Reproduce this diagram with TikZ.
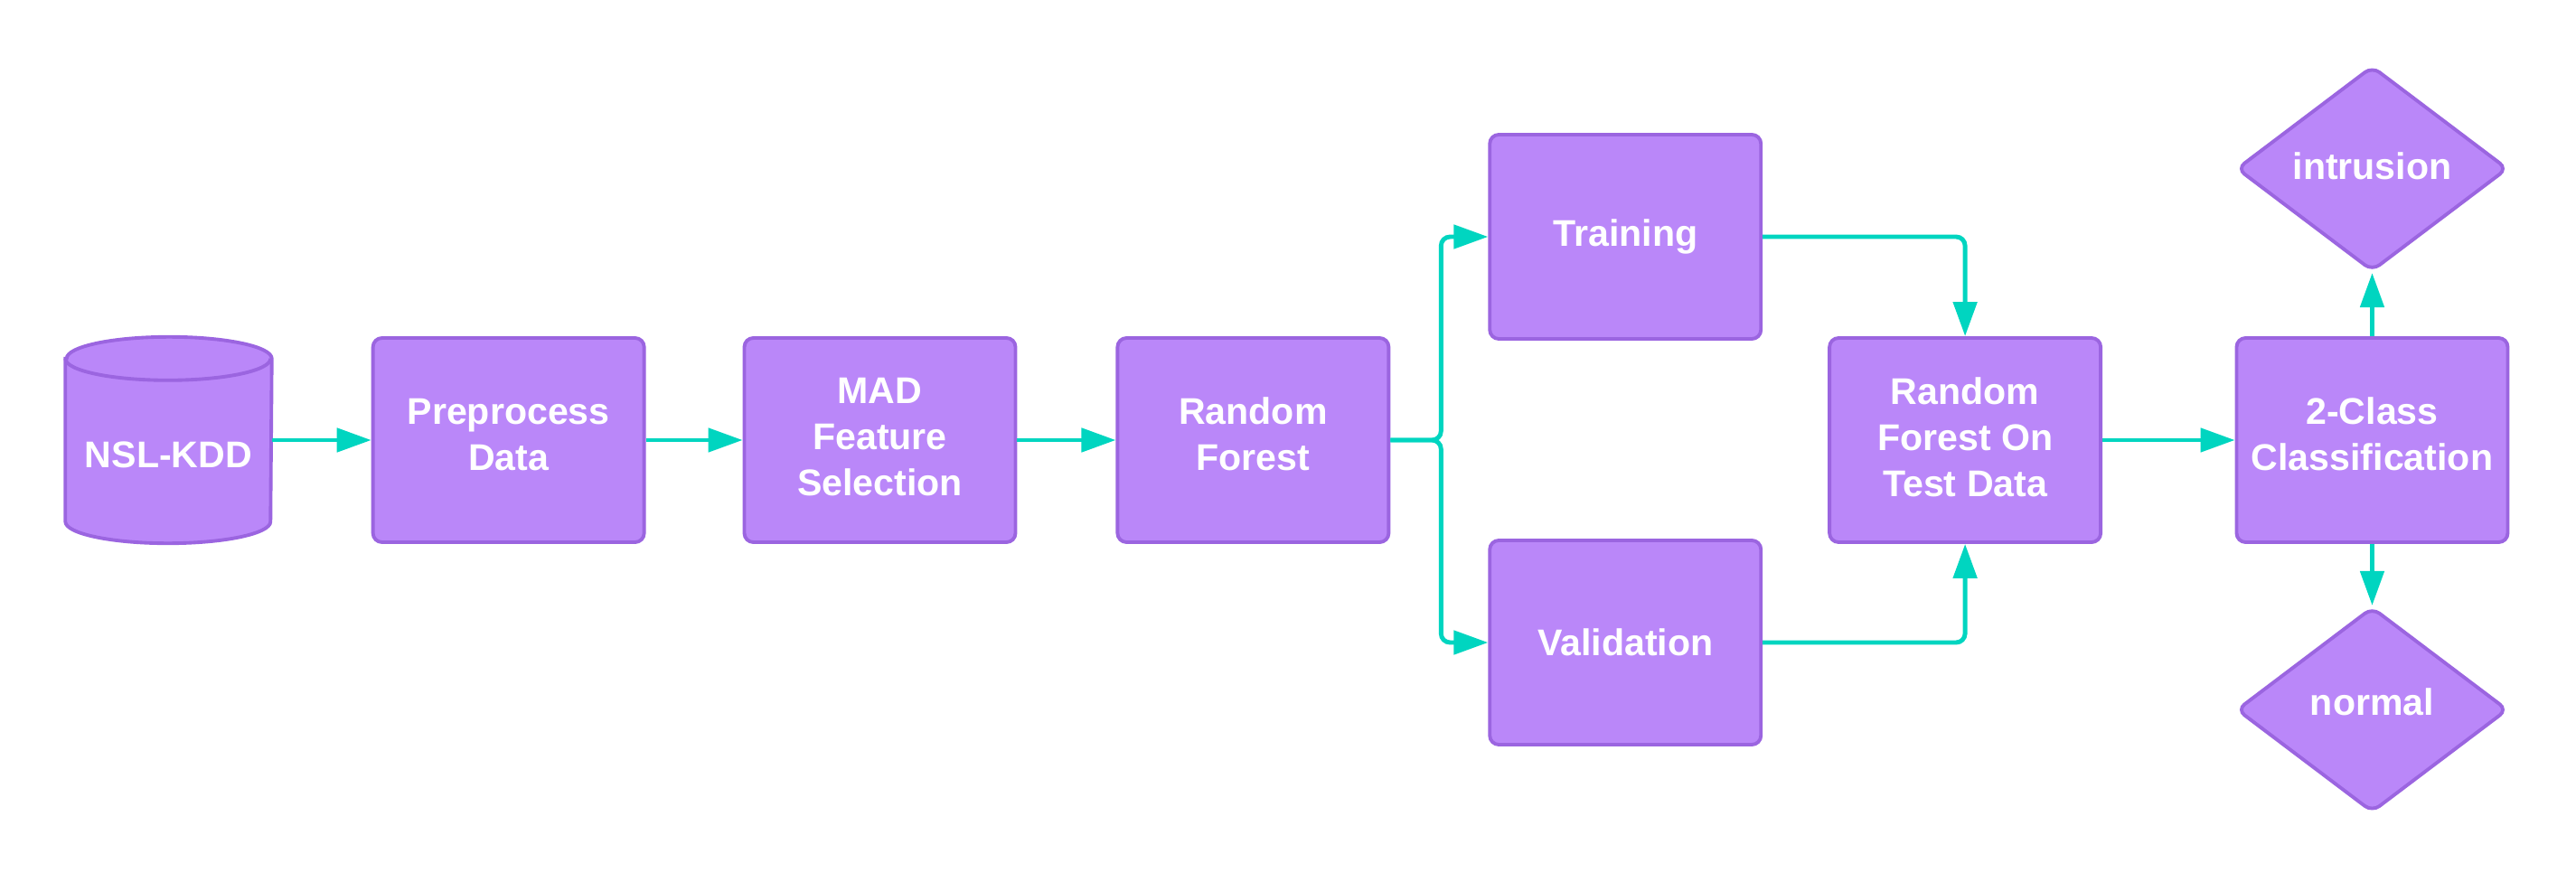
\documentclass[tikz,border=0pt]{standalone}
\usepackage{fontspec}
\setmainfont{Liberation Sans}
\usetikzlibrary{positioning, arrows.meta, shapes.geometric}

\definecolor{boxfill}{HTML}{BA87F9}
\definecolor{boxline}{HTML}{9B65E0}
\definecolor{flowcol}{HTML}{00D5C0}

\tikzset{
  boxtext/.style={text=white, font=\fontsize{11.7}{14.5}\selectfont\bfseries, align=center},
  stepbox/.style={boxtext, draw=boxline, fill=boxfill, line width=1.1pt, rounded corners=0.1cm,
    minimum width=3.0cm, minimum height=2.26cm, inner sep=0pt},
  twoline/.style={text depth=0.13cm},
  threeline/.style={text depth=0.07cm},
  leaf/.style={boxtext, diamond, draw=boxline, fill=boxfill, line width=1.1pt, rounded corners=0.1cm,
    minimum width=3.0cm, minimum height=2.27cm, inner sep=0pt},
  dbshape/.style={draw=boxline, fill=boxfill, line width=1.1pt},
  flow/.style={draw=flowcol, line width=1.4pt, rounded corners=0.1cm,
    -{Triangle[length=3.8mm, width=2.6mm]}}
}

\begin{document}
\begin{tikzpicture}
  \useasboundingbox (0,0) rectangle (28.5,9.75);

  % data base
  \node[minimum width=2.27cm, minimum height=2.27cm, inner sep=0pt] (nsl) at (1.865,4.88) {};
  \filldraw[dbshape] ([yshift=-0.24cm]nsl.north west) -- ([yshift=0.24cm]nsl.south west)
    arc[start angle=180, end angle=360, x radius=1.135cm, y radius=0.24cm]
    -- ([yshift=-0.24cm]nsl.north east)
    arc[start angle=0, end angle=180, x radius=1.135cm, y radius=0.24cm] -- cycle;
  \draw[dbshape, fill=none] ([yshift=-0.24cm]nsl.north west)
    arc[start angle=180, end angle=360, x radius=1.135cm, y radius=0.24cm];
  \node[boxtext] (nsltext) at ([yshift=-0.16cm]nsl.center) {NSL-KDD};

  % main row
  \node[stepbox, twoline, right=1.10cm of nsl] (prep) {Preprocess\\Data};
  \node[stepbox, threeline, right=1.07cm of prep] (mad) {MAD\\Feature\\Selection};
  \node[stepbox, twoline, right=1.09cm of mad] (rf) {Random\\Forest};
  \node[stepbox, right=1.08cm of rf, yshift=2.25cm] (train) {Training};
  \node[stepbox, right=1.08cm of rf, yshift=-2.24cm] (valid) {Validation};
  \node[stepbox, threeline, right=0.72cm of train, yshift=-2.25cm] (rftest) {Random\\Forest On\\Test Data};
  \node[stepbox, twoline, right=1.465cm of rftest] (cls) {2-Class\\Classification};
  \node[leaf, text depth=0.07cm, above=0.70cm of cls] (intru) {intrusion};
  \node[leaf, text depth=0.17cm, below=0.68cm of cls] (normal) {normal};

  \coordinate (fork) at ([xshift=0.56cm]rf.east);

  % connectors
  \draw[flow] (nsl.east) -- (prep.west);
  \draw[flow] (prep) -- (mad);
  \draw[flow] (mad) -- (rf);
  \draw[flow] (rf.east) -- (fork) |- (train.west);
  \draw[flow] (rf.east) -- (fork) |- (valid.west);
  \draw[flow] (train.east) -| (rftest.north);
  \draw[flow] (valid.east) -| (rftest.south);
  \draw[flow] (rftest) -- (cls);
  \draw[flow] (cls) -- (intru);
  \draw[flow] (cls) -- (normal);
\end{tikzpicture}
\end{document}
